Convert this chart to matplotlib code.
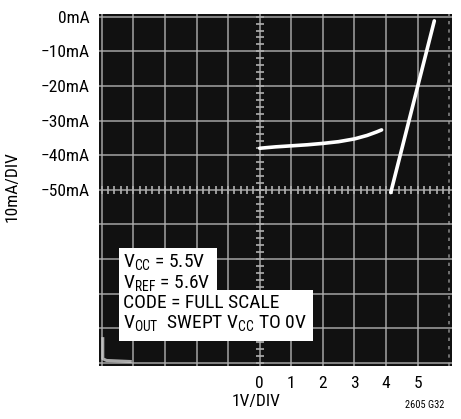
import numpy as np
import matplotlib
matplotlib.use("Agg")
import matplotlib.pyplot as plt
from matplotlib.patches import Rectangle

plt.rcParams['font.family'] = ['Roboto Condensed', 'DejaVu Sans']
plt.rcParams['mathtext.fontset'] = 'custom'
plt.rcParams['mathtext.rm'] = 'Roboto Condensed'
plt.rcParams['mathtext.it'] = 'Roboto Condensed'
plt.rcParams['mathtext.default'] = 'rm'

# trace (V, mA)
curve_v = [0, 0.5, 1, 1.5, 2, 2.5, 3, 3.4, 3.7, 3.86]
curve_ma = [-38.0, -37.6, -37.3, -37.0, -36.6, -36.1, -35.3, -34.3, -33.3, -32.7]
ramp_v = [4.15, 5.53]
ramp_ma = [-50.8, -1.2]
corner_v = [-4.97, -4.97, -4.85, -4.1]
corner_ma = [-93.0, -98.8, -99.3, -99.6]

xticks = [0, 1, 2, 3, 4, 5]
yticks = [0, -10, -20, -30, -40, -50]
ylabels = ["0mA", "\u221210mA", "\u221220mA", "\u221230mA", "\u221240mA", "\u221250mA"]

notes = [r"V$_{\mathrm{CC}}$ = 5.5V",
         r"V$_{\mathrm{REF}}$ = 5.6V",
         "CODE = FULL SCALE",
         r"V$_{\mathrm{OUT}}$  SWEPT V$_{\mathrm{CC}}$ TO 0V"]

fig = plt.figure(figsize=(4.61, 4.19), dpi=100)
ax = fig.add_axes([99/461, 1-366/419, 353/461, 352/419])
ax.set_facecolor('#111111')
ax.set_xlim(-5.09, 6.09)
ax.set_ylim(-100.9, 0.78)

grid_c = '#b0b0b0'
for gx in np.arange(-5, 6):
    ax.axvline(gx, color=grid_c, lw=1.2, alpha=0.85, zorder=1)
ax.axvline(6, color=grid_c, lw=1.2, alpha=0.7, ls=(0, (2, 3)), zorder=1)
for gy in np.arange(-100, 1, 10):
    ax.axhline(gy, color=grid_c, lw=1.2, alpha=0.85, zorder=1)

# small division marks on the centre lines
mx = np.arange(-5, 6.01, 0.2)
ax.plot(mx, np.full(len(mx), -50), ls='none', marker='|', ms=6, mew=1.2, color=grid_c, zorder=1)
my = np.arange(-100, 0.1, 2)
ax.plot(np.zeros(len(my)), my, ls='none', marker='_', ms=6, mew=1.2, color=grid_c, zorder=1)

ax.plot(curve_v, curve_ma, color='white', lw=2.6, solid_capstyle='round', zorder=3)
ax.plot(ramp_v, ramp_ma, color='white', lw=2.6, solid_capstyle='round', zorder=3)
ax.plot(corner_v, corner_ma, color='#cfcfcf', lw=2.2, alpha=0.8, zorder=3)

ax.set_xticks(xticks)
ax.set_xticklabels([str(t) for t in xticks])
ax.set_yticks(yticks)
ax.set_yticklabels(ylabels)
ax.tick_params(length=0, labelsize=12.5)
ax.tick_params(axis='y', pad=7)
ax.tick_params(axis='x', pad=7)
for s in ax.spines.values():
    s.set_visible(False)

# white label boxes
ax.add_patch(Rectangle((0.0567, 0.213), 0.2776, 0.122, transform=ax.transAxes,
                       facecolor='white', edgecolor='none', zorder=4))
ax.add_patch(Rectangle((0.0567, 0.071), 0.5496, 0.145, transform=ax.transAxes,
                       facecolor='white', edgecolor='none', zorder=4))
ax.text(0.067, 0.323, "\n".join(notes), transform=ax.transAxes, fontsize=14,
        va='top', ha='left', linespacing=1.05, color='black', zorder=5)

fig.text(12/461, 1-187/419, "10mA/DIV", rotation=90, fontsize=12.5, ha='center', va='center')
fig.text(255.6/461, 1-401.7/419, "1V/DIV", fontsize=12.5, ha='center', va='center')
fig.text(444/461, 1-405/419, "2605 G32", fontsize=7.5, ha='right', va='center')

fig.savefig("out.png", dpi=100)
